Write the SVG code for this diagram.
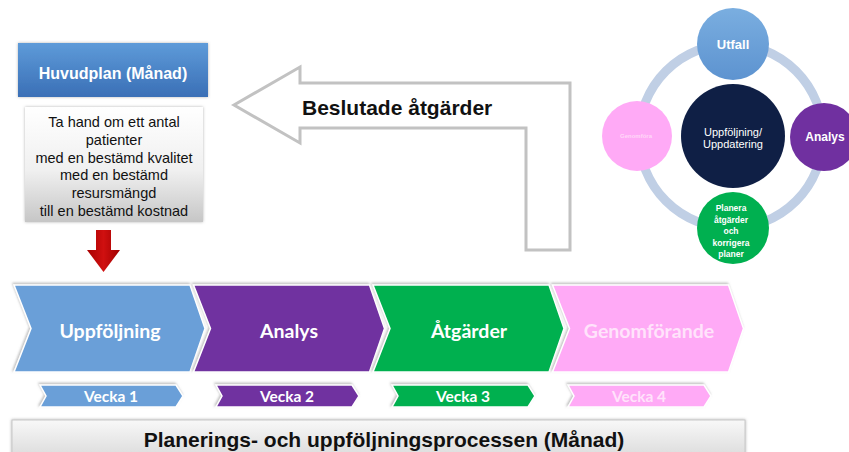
<svg xmlns="http://www.w3.org/2000/svg" width="849" height="452" viewBox="0 0 849 452">
  <defs>
    <linearGradient id="gBluePlan" x1="0" y1="0" x2="0" y2="1">
      <stop offset="0" stop-color="#5e9bd9"/>
      <stop offset="1" stop-color="#3a6fb6"/>
    </linearGradient>
    <linearGradient id="gGrayBox" x1="0" y1="0" x2="0" y2="1">
      <stop offset="0" stop-color="#ffffff"/>
      <stop offset="0.55" stop-color="#f0f0f0"/>
      <stop offset="1" stop-color="#c6c6c6"/>
    </linearGradient>
    <linearGradient id="gRed" x1="0" y1="0" x2="1" y2="0">
      <stop offset="0" stop-color="#a80000"/>
      <stop offset="0.5" stop-color="#d01010"/>
      <stop offset="1" stop-color="#a00000"/>
    </linearGradient>
    <linearGradient id="gBar" x1="0" y1="0" x2="0" y2="1">
      <stop offset="0" stop-color="#f8f8f8"/>
      <stop offset="1" stop-color="#dedede"/>
    </linearGradient>
    <linearGradient id="gUtfall" x1="0" y1="0" x2="0" y2="1">
      <stop offset="0" stop-color="#7aaee0"/>
      <stop offset="1" stop-color="#5d93d0"/>
    </linearGradient>
    <filter id="shadow" x="-10%" y="-20%" width="120%" height="140%">
      <feDropShadow dx="0" dy="0" stdDeviation="1.5" flood-color="#808080" flood-opacity="0.6"/>
    </filter>
    <filter id="softShadow" x="-10%" y="-20%" width="120%" height="140%">
      <feDropShadow dx="-1" dy="-1.5" stdDeviation="1" flood-color="#8a8a8a" flood-opacity="0.55"/>
    </filter>
  </defs>
  <style>
    .sans { font-family: "Liberation Sans", Arial, sans-serif; }
    .calib { font-family: Lato, "Open Sans", sans-serif; font-weight: bold; }
    .phase { font-size: 19.5px; text-anchor: middle; }
    .week { font-size: 15.5px; text-anchor: middle; }
    .blue { fill: #6a9fd8; }
    .purple { fill: #7030a0; }
    .green { fill: #00b050; }
    .pink { fill: #ffaaf6; }
    .ring { fill: none; stroke: #c0cfe5; stroke-width: 9; }
    .chev { stroke: #ffffff; stroke-width: 1.5; filter: url(#softShadow); }
  </style>

  <rect width="849" height="452" fill="#ffffff"/>

  <!-- Main plan header -->
  <g id="huvudplan">
    <rect x="18" y="43" width="190" height="54" fill="url(#gBluePlan)" filter="url(#shadow)"/>
    <text x="113" y="79" class="sans" font-size="16" font-weight="bold" fill="#ffffff" text-anchor="middle">Huvudplan (Månad)</text>
  </g>

  <!-- Goals box -->
  <g id="mal">
    <rect x="25" y="107" width="178" height="115" fill="url(#gGrayBox)" filter="url(#shadow)"/>
    <g class="sans" font-size="14.5" fill="#111111" text-anchor="middle">
      <text x="114" y="127">Ta hand om ett antal</text>
      <text x="114" y="145">patienter</text>
      <text x="114" y="163">med en bestämd kvalitet</text>
      <text x="114" y="180">med en bestämd</text>
      <text x="114" y="198">resursmängd</text>
      <text x="114" y="216">till en bestämd kostnad</text>
    </g>
  </g>

  <!-- Connectors -->
  <g id="connectors">
    <!-- down arrow into the process -->
    <polygon points="96,230 111,230 111,250 120,250 103.5,272 87,250 96,250" fill="url(#gRed)"/>
    <!-- bent feedback arrow -->
    <polygon points="570,83 570,250 526,250 526,128 300,128 300,143 234,105 300,67 300,83" fill="#ffffff" stroke="#c2c2c2" stroke-width="3" stroke-linejoin="miter"/>
    <text x="302" y="115" class="sans" font-size="21" font-weight="bold" fill="#111111">Beslutade åtgärder</text>
  </g>

  <!-- Follow-up cycle -->
  <g id="cykel">
    <circle cx="731" cy="136" r="92" class="ring"/>
    <g id="utfall">
      <circle cx="733" cy="44" r="36" fill="url(#gUtfall)"/>
      <text x="733" y="49" class="sans" font-size="13" font-weight="bold" fill="#ffffff" text-anchor="middle">Utfall</text>
    </g>
    <g id="analys-cirkel">
      <circle cx="824" cy="137" r="34" fill="#7030a0"/>
      <text x="825" y="141" class="sans" font-size="12" font-weight="bold" fill="#ffffff" text-anchor="middle">Analys</text>
    </g>
    <g id="planera">
      <circle cx="733" cy="228" r="36" fill="#00b050"/>
      <g class="sans" font-size="8.5" font-weight="bold" fill="#ffffff" text-anchor="middle">
        <text x="731" y="211">Planera</text>
        <text x="731" y="223">åtgärder</text>
        <text x="731" y="234">och</text>
        <text x="731" y="246">korrigera</text>
        <text x="731" y="257">planer</text>
      </g>
    </g>
    <g id="genomfora">
      <circle cx="637" cy="136" r="35" fill="#ffaaf6"/>
      <text x="636" y="138" class="sans" font-size="6" font-weight="bold" fill="#ffd8f8" text-anchor="middle">Genomföra</text>
    </g>
    <g id="uppfoljning-cirkel">
      <circle cx="733" cy="136" r="52" fill="#0f1f45"/>
      <g class="sans" font-size="11" fill="#ffffff" text-anchor="middle">
        <text x="733" y="136">Uppföljning/</text>
        <text x="733" y="148">Uppdatering</text>
      </g>
    </g>
  </g>

  <!-- Process phases -->
  <g id="fas-uppfoljning">
    <polygon class="chev blue" points="14,285 190,285 205,328.5 190,372 14,372 31,328.5"/>
    <text x="110" y="338" class="calib phase" fill="#ffffff">Uppföljning</text>
  </g>
  <g id="fas-analys">
    <polygon class="chev purple" points="193.5,285 369.5,285 384.5,328.5 369.5,372 193.5,372 210.5,328.5"/>
    <text x="289" y="338" class="calib phase" fill="#ffffff">Analys</text>
  </g>
  <g id="fas-atgarder">
    <polygon class="chev green" points="373,285 549,285 564,328.5 549,372 373,372 390,328.5"/>
    <text x="469" y="338" class="calib phase" fill="#ffffff">Åtgärder</text>
  </g>
  <g id="fas-genomforande">
    <polygon class="chev pink" points="552.5,285 728.5,285 743.5,328.5 728.5,372 552.5,372 569.5,328.5"/>
    <text x="649" y="338" class="calib phase" fill="#ffe3fb">Genomförande</text>
  </g>

  <!-- Weeks -->
  <g id="vecka1">
    <polygon class="chev blue" points="40,385 176,385 183,396 176,407 40,407 46,396"/>
    <text x="111" y="401.5" class="calib week" fill="#ffffff">Vecka 1</text>
  </g>
  <g id="vecka2">
    <polygon class="chev purple" points="216,385 352,385 359,396 352,407 216,407 222,396"/>
    <text x="287" y="401.5" class="calib week" fill="#ffffff">Vecka 2</text>
  </g>
  <g id="vecka3">
    <polygon class="chev green" points="392,385 528,385 535,396 528,407 392,407 398,396"/>
    <text x="463" y="401.5" class="calib week" fill="#ffffff">Vecka 3</text>
  </g>
  <g id="vecka4">
    <polygon class="chev pink" points="568,385 704,385 711,396 704,407 568,407 574,396"/>
    <text x="639" y="401.5" class="calib week" fill="#ffe3fb">Vecka 4</text>
  </g>

  <!-- Process title bar -->
  <g id="process">
    <rect x="12" y="420" width="733" height="34" fill="url(#gBar)" stroke="#c8c8c8" stroke-width="1" filter="url(#shadow)"/>
    <text x="384" y="447" class="sans" font-size="21" font-weight="bold" fill="#111111" text-anchor="middle">Planerings- och uppföljningsprocessen (Månad)</text>
  </g>
</svg>
